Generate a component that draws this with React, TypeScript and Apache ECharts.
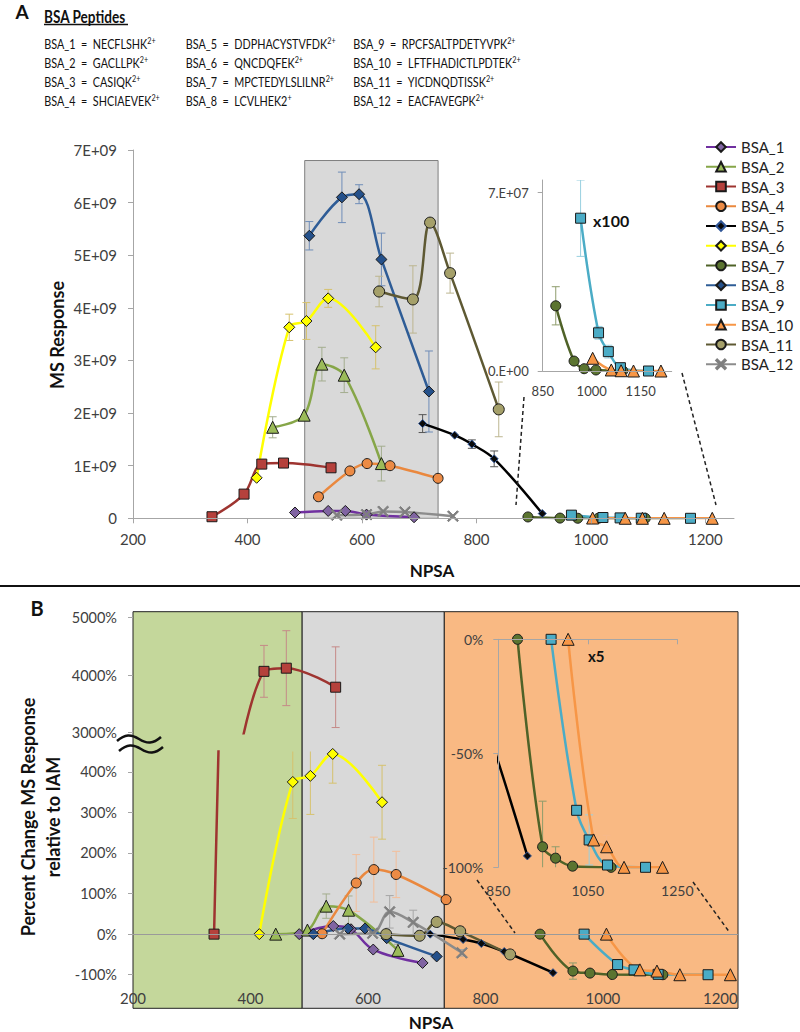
import React, { useEffect, useRef } from "react";
import * as echarts from "echarts";

// ---------- names & labels ----------
const NAMES = ["BSA_1", "BSA_2", "BSA_3", "BSA_4", "BSA_5", "BSA_6", "BSA_7", "BSA_8", "BSA_9", "BSA_10", "BSA_11", "BSA_12"];

const PEPTIDES: string[][] = [
  ["BSA_1", "NECFLSHK", "2+"],
  ["BSA_2", "GACLLPK", "2+"],
  ["BSA_3", "CASIQK", "2+"],
  ["BSA_4", "SHCIAEVEK", "2+"],
  ["BSA_5", "DDPHACYSTVFDK", "2+"],
  ["BSA_6", "QNCDQFEK", "2+"],
  ["BSA_7", "MPCTEDYLSLILNR", "2+"],
  ["BSA_8", "LCVLHEK2", "+"],
  ["BSA_9", "RPCFSALTPDETYVPK", "2+"],
  ["BSA_10", "LFTFHADICTLPDTEK", "2+"],
  ["BSA_11", "YICDNQDTISSK", "2+"],
  ["BSA_12", "EACFAVEGPK", "2+"],
];

// ---------- Panel A: [NPSA, MS response] ----------
const A_BSA_1 = [[483, 0.11e9], [541, 0.14e9], [571, 0.14e9], [608, 0.07e9], [691, 0.02e9]];
const A_BSA_2 = [[444, 1.73e9], [499, 1.96e9], [530, 2.93e9], [569, 2.72e9], [634, 1.04e9]];
const A_BSA_3 = [[338, 0.03e9], [394, 0.46e9], [425, 1.03e9], [463, 1.05e9], [546, 0.96e9]];
const A_BSA_4 = [[524, 0.41e9], [579, 0.9e9], [609, 1.04e9], [649, 1.0e9], [733, 0.76e9]];
const A_BSA_5 = [[706, 1.8e9], [762, 1.58e9], [792, 1.41e9], [831, 1.13e9], [915, 0.09e9]];
const A_BSA_6 = [[416, 0.77e9], [473, 3.63e9], [503, 3.75e9], [541, 4.18e9], [624, 3.25e9]];
const A_BSA_7 = [[890, 2.56e7], [946, 0.39e7], [977, 0.09e7], [1013, 0.04e7], [1095, 0.01e7]];
const A_BSA_8 = [[508, 5.37e9], [565, 6.1e9], [595, 6.16e9], [634, 4.92e9], [717, 2.41e9]];
const A_BSA_9 = [[966, 6.0e7], [1021, 1.5e7], [1051, 0.76e7], [1088, 0.13e7], [1174, 0]];
const A_BSA_10 = [[1003, 0.5e7], [1060, 0.04e7], [1090, 0.01e7], [1128, 0], [1212, 0]];
const A_BSA_11 = [[630, 4.31e9], [689, 4.16e9], [719, 5.62e9], [754, 4.66e9], [839, 2.07e9]];
const A_BSA_12 = [[556, 0.06e9], [608, 0.07e9], [637, 0.13e9], [675, 0.12e9], [759, 0.04e9]];

// error bars (+/-), same order as points
const A_ERR_BSA_2 = [0.2e9, 0, 0.32e9, 0.33e9, 0.33e9];
const A_ERR_BSA_5 = [0.17e9, 0, 0.08e9, 0.15e9, 0];
const A_ERR_BSA_6 = [0, 0.25e9, 0.35e9, 0.17e9, 0.41e9];
const A_ERR_BSA_8 = [0.27e9, 0.48e9, 0.18e9, 0.5e9, 0.77e9];
const A_ERR_BSA_11 = [0.29e9, 0.64e9, 0, 0.38e9, 0.52e9];
const A_ERR_BSA_7 = [0.75e7, 0.1e7, 0, 0, 0];
const A_ERR_BSA_9 = [1.5e7, 0.25e7, 0.25e7, 0, 0];

const A_SHADE_NPSA = [500, 733];
const A_SHADE_TOP = 6.8e9;

const A_XTICKS = [200, 400, 600, 800, 1000, 1200];
const A_INSET_XTICKS = [850, 1000, 1150];
const A_INSET_YTICKS = [0, 7e7];

// ---------- Panel B: [NPSA, % change vs IAM] ----------
const B_BSA_1 = [[483, 0], [541, 20], [571, 12], [609, -38], [693, -71]];
const B_BSA_2 = [[443, 0], [497, 10], [529, 69], [567, 59], [651, -40]];
const B_BSA_3 = [[338, 0], [423, 4065], [461, 4120], [545, 3790]];
const B_BSA_4 = [[522, 1], [580, 126], [610, 159], [648, 147], [733, 85]];
const B_BSA_5 = [[706, 0], [762, -13], [793, -23], [832, -43], [915, -95]];
const B_BSA_6 = [[415, 0], [472, 375], [502, 390], [540, 444], [624, 325]];
const B_BSA_7 = [[893, 0], [949, -91], [978, -96], [1016, -99.5], [1102, -100]];
const B_BSA_8 = [[507, 0], [566, 14], [595, 14], [632, -10], [717, -55]];
const B_BSA_9 = [[968, 0], [1025, -75], [1053, -88], [1094, -99], [1179, -100]];
const B_BSA_10 = [[1006, 0], [1063, -88], [1092, -91], [1131, -100], [1217, -100]];
const B_BSA_11 = [[631, 0], [688, -4], [717, 30], [757, 7], [842, -50]];
const B_BSA_12 = [[552, 0], [608, 2], [637, 55], [677, 29], [760, -46]];

const B_ERR_BSA_3 = [0, 450, 650, 700];
const B_ERR_BSA_6 = [0, 90, 95, 72, 91];
const B_ERR_BSA_4 = [0, 70, 80, 57, 0];
const B_ERR_BSA_2 = [0, 0, 30, 35, 15];
const B_ERR_BSA_12 = [0, 0, 40, 30, 8];
const B_ERR_BSA_7 = [0, 20, 5, 0, 0];
const B_ERR_BSA_9 = [0, 0, 11, 0, 0];
const B_ERR_BSA_10 = [0, 0, 5, 0, 0];

const B_REGIONS = [[200, 488], [488, 730], [730, 1230]];
const B_XTICKS = [200, 400, 600, 800, 1000, 1200];
const B_UPPER_YTICKS = [3000, 4000, 5000];
const B_LOWER_YTICKS = [-100, 0, 100, 200, 300, 400];
const B_INSET_XTICKS = [850, 1050, 1250];
const B_INSET_YTICKS = [0, -50, -100];

// ---------- styles ----------
const FONT = "Lato, 'Open Sans', sans-serif";
const LABEL = "#404040";
const AXIS = "#A6A6A6";
const XMARK = "path://M1,0 L5,4 L9,0 L10,1 L6,5 L10,9 L9,10 L5,6 L1,10 L0,9 L4,5 L0,1 Z";
const REGION_COLORS = ["#C4D79B", "#D9D9D9", "#F9B983"];

const STY: Record<string, any> = {
  BSA_1: { line: "#7030A0", fill: "#8064A2", symbol: "diamond", size: 11, err: "#A08CC0" },
  BSA_2: { line: "#86A648", fill: "#9BBB59", symbol: "triangle", size: 12, err: "#A3AD8E" },
  BSA_3: { line: "#9E3430", fill: "#B5413C", symbol: "rect", size: 10, err: "#C58A88" },
  BSA_4: { line: "#EA883E", fill: "#EC8B45", symbol: "circle", size: 10, err: "#F3BE9A" },
  BSA_5: { line: "#000000", fill: "#0A0A0A", symbol: "diamond", size: 8, border: "#2F5597", err: "#555555" },
  BSA_6: { line: "#FFFF00", fill: "#FFFF00", symbol: "diamond", size: 11, err: "#D6C26E" },
  BSA_7: { line: "#4F6228", fill: "#5B7430", symbol: "circle", size: 10, err: "#8E9C6C" },
  BSA_8: { line: "#2E5C96", fill: "#24508A", symbol: "diamond", size: 11, err: "#6F8DB8" },
  BSA_9: { line: "#4BACC6", fill: "#4BACC6", symbol: "rect", size: 10, err: "#98D0E0" },
  BSA_10: { line: "#F79646", fill: "#F79646", symbol: "triangle", size: 12, err: "#F7B98A" },
  BSA_11: { line: "#5E5933", fill: "#A5A06A", symbol: "circle", size: 11, err: "#BDB690" },
  BSA_12: { line: "#8C8C8C", fill: "#808080", symbol: XMARK, size: 11, border: "#7F7F7F", err: "#A6A6A6" },
};

const A_DATA: Record<string, number[][]> = {
  BSA_1: A_BSA_1, BSA_2: A_BSA_2, BSA_3: A_BSA_3, BSA_4: A_BSA_4, BSA_5: A_BSA_5, BSA_6: A_BSA_6,
  BSA_7: A_BSA_7, BSA_8: A_BSA_8, BSA_9: A_BSA_9, BSA_10: A_BSA_10, BSA_11: A_BSA_11, BSA_12: A_BSA_12,
};
const B_DATA: Record<string, number[][]> = {
  BSA_1: B_BSA_1, BSA_2: B_BSA_2, BSA_3: B_BSA_3, BSA_4: B_BSA_4, BSA_5: B_BSA_5, BSA_6: B_BSA_6,
  BSA_7: B_BSA_7, BSA_8: B_BSA_8, BSA_9: B_BSA_9, BSA_10: B_BSA_10, BSA_11: B_BSA_11, BSA_12: B_BSA_12,
};

try {
  echarts.graphic.registerShape(
    "wave",
    (echarts.graphic as any).extendPath("M0,6 C8,-1 14,-1 22,4 C30,9 36,9 44,2", {})
  );
} catch (e) {}

function lineSeries(name: string, data: number[][], xi: number, yi: number) {
  const s = STY[name];
  return {
    type: "line",
    name,
    data,
    xAxisIndex: xi,
    yAxisIndex: yi,
    smooth: 0.35,
    z: 4,
    clip: true,
    symbol: s.symbol,
    symbolSize: s.size,
    lineStyle: { color: s.line, width: 2.5 },
    itemStyle: { color: s.fill, borderColor: s.border || "#1a1a1a", borderWidth: 1 },
    emphasis: { disabled: true },
  };
}

function errSeries(name: string, data: number[][], errs: number[], xi: number, yi: number) {
  const color = STY[name].err;
  const d = data.map((p, i) => [p[0], p[1], errs[i] || 0]).filter((p) => p[2] > 0);
  return {
    type: "custom",
    xAxisIndex: xi,
    yAxisIndex: yi,
    data: d,
    clip: true,
    silent: true,
    z: 3,
    dimensions: ["x", "y", "e"],
    encode: { x: 0, y: 1 },
    renderItem: (params: any, api: any) => {
      const x = api.value(0), y = api.value(1), e = api.value(2);
      const hi = api.coord([x, y + e]);
      const lo = api.coord([x, y - e]);
      const c = 4;
      const st = { stroke: color, lineWidth: 1 };
      return {
        type: "group",
        children: [
          { type: "line", shape: { x1: hi[0], y1: hi[1], x2: lo[0], y2: lo[1] }, style: st },
          { type: "line", shape: { x1: hi[0] - c, y1: hi[1], x2: hi[0] + c, y2: hi[1] }, style: st },
          { type: "line", shape: { x1: lo[0] - c, y1: lo[1], x2: lo[0] + c, y2: lo[1] }, style: st },
        ],
      };
    },
  };
}

const hiddenAxis = (gi: number, min: number, max: number) => ({ gridIndex: gi, type: "value", min, max, show: false });
const plain = (v: number) => String(v);

function buildOption() {
  const lab = (size: number, extra: any = {}) => ({ fontFamily: FONT, fontSize: size, color: LABEL, formatter: plain, ...extra });

  const xAxis: any[] = [
    {
      gridIndex: 0, type: "value", min: 200, max: 1250, z: 10,
      axisLine: { show: true, onZero: false, lineStyle: { color: AXIS } },
      axisTick: { show: true, length: 5, lineStyle: { color: AXIS }, customValues: A_XTICKS },
      axisLabel: lab(15, { customValues: A_XTICKS, margin: 13 }),
      splitLine: { show: false },
    },
    {
      gridIndex: 1, type: "value", min: 850, max: 1245, z: 10,
      axisLine: { show: true, onZero: false, lineStyle: { color: AXIS } },
      axisTick: { show: false },
      axisLabel: lab(13, { customValues: A_INSET_XTICKS, margin: 13 }),
      splitLine: { show: false },
    },
    hiddenAxis(2, 200, 1230),
    hiddenAxis(3, 200, 1230),
    {
      gridIndex: 4, type: "value", min: 200, max: 1230, z: 10,
      axisLine: { show: false, onZero: false },
      axisTick: { show: false },
      axisLabel: lab(15, { customValues: B_XTICKS, inside: true, margin: 3 }),
      splitLine: { show: false },
    },
    {
      gridIndex: 5, type: "value", min: 850, max: 1250, position: "top", z: 10,
      axisLine: { show: true, onZero: false, lineStyle: { color: AXIS } },
      axisTick: { show: true, inside: true, length: 5, lineStyle: { color: AXIS }, customValues: B_INSET_XTICKS },
      axisLabel: { show: false },
      splitLine: { show: false },
    },
    {
      gridIndex: 5, type: "value", min: 850, max: 1250, position: "bottom", z: 10,
      axisLine: { show: false, onZero: false },
      axisTick: { show: false },
      axisLabel: lab(14, { customValues: B_INSET_XTICKS, margin: 16 }),
      splitLine: { show: false },
    },
  ];

  const yAxis: any[] = [
    {
      gridIndex: 0, type: "value", min: 0, max: 7e9, interval: 1e9, z: 10,
      axisLine: { show: true, onZero: false, lineStyle: { color: AXIS } },
      axisTick: { show: true, length: 5, lineStyle: { color: AXIS } },
      axisLabel: lab(15, { margin: 16, formatter: (v: number) => (v === 0 ? "0" : `${v / 1e9}E+09`) }),
      splitLine: { show: false },
    },
    {
      gridIndex: 1, type: "value", min: 0, max: 7.5e7, z: 10,
      axisLine: { show: true, onZero: false, lineStyle: { color: AXIS } },
      axisTick: { show: true, length: 5, lineStyle: { color: AXIS }, customValues: A_INSET_YTICKS },
      axisLabel: lab(13, { margin: 14, customValues: A_INSET_YTICKS, formatter: (v: number) => `${v / 1e7}.E+0${v === 0 ? 0 : 7}` }),
      splitLine: { show: false },
    },
    hiddenAxis(2, 0, 1),
    {
      gridIndex: 3, type: "value", min: 2990, max: 5100, z: 10,
      axisLine: { show: false, onZero: false },
      axisTick: { show: true, length: 5, lineStyle: { color: AXIS }, customValues: B_UPPER_YTICKS },
      axisLabel: lab(14.5, { margin: 16, customValues: B_UPPER_YTICKS, formatter: (v: number) => `${v}%` }),
      splitLine: { show: false },
    },
    {
      gridIndex: 4, type: "value", min: -182, max: 450, z: 10,
      axisLine: { show: false, onZero: false },
      axisTick: { show: true, length: 5, lineStyle: { color: AXIS }, customValues: B_LOWER_YTICKS },
      axisLabel: lab(14.5, { margin: 16, customValues: B_LOWER_YTICKS, formatter: (v: number) => `${v}%` }),
      splitLine: { show: false },
    },
    {
      gridIndex: 5, type: "value", min: -100, max: 0, interval: 50, z: 10,
      axisLine: { show: true, onZero: false, lineStyle: { color: AXIS } },
      axisTick: { show: true, length: 5, lineStyle: { color: AXIS }, customValues: B_INSET_YTICKS },
      axisLabel: lab(14, { margin: 15, customValues: B_INSET_YTICKS, formatter: (v: number) => `${v}%` }),
      splitLine: { show: false },
    },
  ];

  const g = (left: number, top: number, width: number, height: number) => ({ left, top, width, height, containLabel: false, outerBoundsMode: "none" });
  const grid = [
    g(133, 150, 601, 368.3),
    g(542.7, 180, 129, 191),
    g(133, 611.7, 605, 396.6),
    g(133, 611.7, 605, 121.6),
    g(133, 751.5, 605, 256.5),
    g(498.3, 639.3, 179, 228),
  ];

  const series: any[] = [];
  // Panel A main
  NAMES.forEach((n) => series.push(lineSeries(n, A_DATA[n], 0, 0)));
  series.push({
    type: "line", xAxisIndex: 0, yAxisIndex: 0, data: [], z: 1, silent: true,
    markArea: {
      silent: true,
      itemStyle: { color: "#D9D9D9", borderColor: "#7F7F7F", borderWidth: 1 },
      data: [[{ xAxis: A_SHADE_NPSA[0], yAxis: 0 }, { xAxis: A_SHADE_NPSA[1], yAxis: A_SHADE_TOP }]],
    },
  });
  series.push(errSeries("BSA_2", A_BSA_2, A_ERR_BSA_2, 0, 0));
  series.push(errSeries("BSA_5", A_BSA_5, A_ERR_BSA_5, 0, 0));
  series.push(errSeries("BSA_6", A_BSA_6, A_ERR_BSA_6, 0, 0));
  series.push(errSeries("BSA_8", A_BSA_8, A_ERR_BSA_8, 0, 0));
  series.push(errSeries("BSA_11", A_BSA_11, A_ERR_BSA_11, 0, 0));
  // Panel A inset
  ["BSA_7", "BSA_9", "BSA_10"].forEach((n) => series.push(lineSeries(n, A_DATA[n], 1, 1)));
  series.push(errSeries("BSA_7", A_BSA_7, A_ERR_BSA_7, 1, 1));
  series.push(errSeries("BSA_9", A_BSA_9, A_ERR_BSA_9, 1, 1));

  // Panel B background
  series.push({
    type: "line", xAxisIndex: 2, yAxisIndex: 2, data: [], z: 0, silent: true,
    markArea: {
      silent: true,
      data: B_REGIONS.map((r, i) => [
        { xAxis: r[0], yAxis: 0, itemStyle: { color: REGION_COLORS[i], borderColor: "#222", borderWidth: 1 } },
        { xAxis: r[1], yAxis: 1 },
      ]),
    },
  });
  // zero line
  series.push({
    type: "line", xAxisIndex: 4, yAxisIndex: 4, data: [], z: 1, silent: true,
    markLine: {
      silent: true, symbol: ["none", "none"], label: { show: false },
      lineStyle: { color: "#9A9A9A", type: "solid", width: 1 },
      data: [{ yAxis: 0 }],
    },
  });
  // Panel B upper (broken axis)
  series.push(lineSeries("BSA_3", B_BSA_3, 3, 3));
  series.push(errSeries("BSA_3", B_BSA_3, B_ERR_BSA_3, 3, 3));
  // Panel B lower
  NAMES.forEach((n) => series.push(lineSeries(n, B_DATA[n], 4, 4)));
  series.push(errSeries("BSA_6", B_BSA_6, B_ERR_BSA_6, 4, 4));
  series.push(errSeries("BSA_4", B_BSA_4, B_ERR_BSA_4, 4, 4));
  series.push(errSeries("BSA_2", B_BSA_2, B_ERR_BSA_2, 4, 4));
  series.push(errSeries("BSA_12", B_BSA_12, B_ERR_BSA_12, 4, 4));
  series.push(errSeries("BSA_7", B_BSA_7, B_ERR_BSA_7, 4, 4));
  // Panel B inset
  ["BSA_5", "BSA_7", "BSA_9", "BSA_10"].forEach((n) => series.push(lineSeries(n, B_DATA[n], 5, 5)));
  series.push(errSeries("BSA_7", B_BSA_7, B_ERR_BSA_7, 5, 5));
  series.push(errSeries("BSA_9", B_BSA_9, B_ERR_BSA_9, 5, 5));
  series.push(errSeries("BSA_10", B_BSA_10, B_ERR_BSA_10, 5, 5));

  // graphics
  const bold = (size: number) => ({ fontFamily: FONT, fontWeight: "bold", fontSize: size, fill: "#111" });
  const graphic: any[] = [
    { type: "text", x: 22, y: 11, style: { text: "A", align: "center", verticalAlign: "middle", ...bold(19) } },
    { type: "text", x: 44, y: 16, scaleX: 0.8, style: { text: "BSA Peptides", align: "left", verticalAlign: "middle", ...bold(17) } },
    { type: "line", shape: { x1: 44, y1: 24.5, x2: 128, y2: 24.5 }, style: { stroke: "#111", lineWidth: 1.3 } },
    { type: "text", x: 57, y: 335, rotation: Math.PI / 2, style: { text: "MS Response", align: "center", verticalAlign: "middle", ...bold(18) } },
    { type: "text", x: 432, y: 570, style: { text: "NPSA", align: "center", verticalAlign: "middle", ...bold(17) } },
    { type: "text", x: 593, y: 220, style: { text: "x100", align: "left", verticalAlign: "middle", ...bold(16) } },
    { type: "line", shape: { x1: 524, y1: 397, x2: 516, y2: 505 }, style: { stroke: "#222", lineWidth: 1.5, lineDash: [4, 3] } },
    { type: "line", shape: { x1: 682, y1: 373, x2: 716, y2: 505 }, style: { stroke: "#222", lineWidth: 1.5, lineDash: [4, 3] } },
    { type: "line", shape: { x1: 0, y1: 586, x2: 800, y2: 586 }, style: { stroke: "#111", lineWidth: 2 } },
    { type: "text", x: 37, y: 608, style: { text: "B", align: "center", verticalAlign: "middle", ...bold(20) } },
    {
      type: "text", x: 40.5, y: 817, rotation: Math.PI / 2,
      style: { text: "Percent Change MS Response\nrelative to IAM", align: "center", verticalAlign: "middle", lineHeight: 25, ...bold(18) },
    },
    { type: "wave", x: 117, y: 735, shape: {}, style: { stroke: "#111", lineWidth: 2.5, fill: "none" } },
    { type: "wave", x: 119, y: 745, shape: {}, style: { stroke: "#111", lineWidth: 2.5, fill: "none" } },
    { type: "text", x: 588, y: 656, style: { text: "x5", align: "left", verticalAlign: "middle", ...bold(15) } },
    { type: "line", shape: { x1: 477, y1: 880, x2: 515, y2: 933 }, style: { stroke: "#222", lineWidth: 1.5, lineDash: [4, 3] } },
    { type: "line", shape: { x1: 693, y1: 882, x2: 730, y2: 933 }, style: { stroke: "#222", lineWidth: 1.5, lineDash: [4, 3] } },
    { type: "text", x: 431, y: 1022, style: { text: "NPSA", align: "center", verticalAlign: "middle", ...bold(17) } },
  ];
  const colX = [44.3, 185.7, 353.3];
  const NB = "\u00A0";
  PEPTIDES.forEach((p, i) => {
    const col = Math.floor(i / 4), row = i % 4;
    graphic.push({
      type: "text", x: colX[col], y: 44 + row * 19, scaleX: 0.8,
      style: {
        text: `{a|${p[0]}${NB}${NB}=${NB}${NB}${p[1]}}{s|${p[2]}}`,
        align: "left", verticalAlign: "middle",
        rich: {
          a: { fontFamily: FONT, fontSize: 13.5, fill: "#111", lineHeight: 15 },
          s: { fontFamily: FONT, fontSize: 9, fill: "#111", lineHeight: 9, verticalAlign: "top" },
        },
      },
    });
  });
  graphic.forEach((el) => (el.z = 50));

  return {
    animation: false,
    backgroundColor: "#ffffff",
    grid,
    xAxis,
    yAxis,
    legend: {
      data: NAMES, orient: "vertical", left: 705, top: 139, padding: 0, itemGap: 3.75,
      itemWidth: 30, itemHeight: 12, selectedMode: false,
      textStyle: { fontFamily: FONT, fontSize: 15, color: "#222", lineHeight: 16 },
    },
    series,
    graphic,
  };
}

export default function App() {
  const ref = useRef<HTMLDivElement>(null);
  useEffect(() => {
    const chart = echarts.init(ref.current!, null, { renderer: "svg" });
    chart.setOption(buildOption() as any);
    return () => chart.dispose();
  }, []);
  return <div ref={ref} style={{ position: "absolute", left: 0, top: 0, width: 800, height: 1032 }} />;
}
